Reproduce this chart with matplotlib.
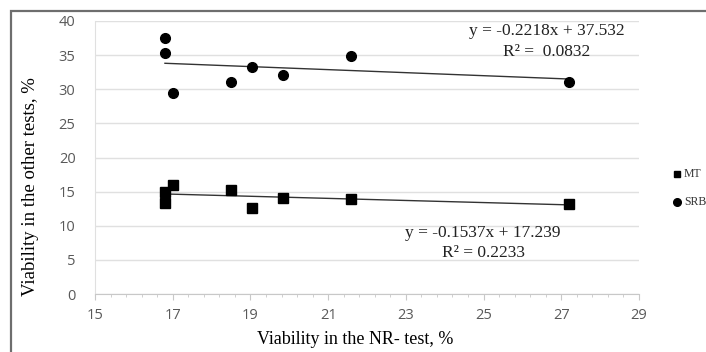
import matplotlib
matplotlib.use("Agg")
import matplotlib.pyplot as plt
from matplotlib.patches import Rectangle
import numpy as np

# Data
nr_mt = [16.8, 16.8, 17.0, 18.5, 19.05, 19.85, 21.6, 27.2]
mt = [14.9, 13.4, 16.0, 15.2, 12.6, 14.0, 13.9, 13.2]
nr_srb = [16.8, 16.8, 17.0, 18.5, 19.05, 19.85, 21.6, 27.2]
srb = [37.5, 35.3, 29.5, 31.0, 33.3, 32.1, 34.9, 31.0]
mt_fit = (-0.1537, 17.239)
srb_fit = (-0.2218, 37.532)
x_ticks = [15, 17, 19, 21, 23, 25, 27, 29]
y_ticks = [0, 5, 10, 15, 20, 25, 30, 35, 40]

W, H = 706, 352
fig = plt.figure(figsize=(W / 100, H / 100), dpi=100)
ax = fig.add_axes([95 / W, 1 - 294 / H, (639 - 95) / W, (294 - 21) / H])

# border around chart
fig.patches.append(Rectangle((10.5 / W, -0.05), 1.0, 1 - 10.5 / H + 0.05,
                             transform=fig.transFigure, fill=False,
                             edgecolor='#6e6e6e', linewidth=1.6))

ax.set_xlim(15, 29)
ax.set_ylim(0, 40)
ax.set_xticks(x_ticks)
ax.set_yticks(y_ticks)
ax.set_xticks(np.arange(15, 29.01, 0.4), minor=True)
ax.tick_params(axis='x', which='major', length=4, color='#c8c8c8', colors='#595959', labelsize=10.5, pad=6)
ax.tick_params(axis='x', which='minor', length=2.5, color='#c8c8c8')
ax.tick_params(axis='y', length=0, colors='#595959', labelsize=10.5, pad=14)
for lab in ax.get_xticklabels() + ax.get_yticklabels():
    lab.set_fontfamily('Open Sans')
ax.grid(axis='y', color='#e0e0e0', linewidth=1)
ax.set_axisbelow(True)
for s in ['top', 'right']:
    ax.spines[s].set_visible(False)
ax.spines['bottom'].set_color('#c8c8c8')
ax.spines['left'].set_color('#e0e0e0')

# trend lines
for xs, (a, b) in ((nr_mt, mt_fit), (nr_srb, srb_fit)):
    xx = np.array([min(xs), max(xs)])
    ax.plot(xx, a * xx + b, color='#333333', linewidth=1.0, zorder=2)

ax.plot(nr_mt, mt, 's', color='black', markersize=7, zorder=3)
ax.plot(nr_srb, srb, 'o', color='black', markersize=7, zorder=3)

serif = 'Liberation Serif'
eq_fs = 12.5
fig.text(547 / W, 1 - 31 / H, 'y = -0.2218x + 37.532', ha='center', va='center',
         fontsize=eq_fs, family=serif, color='#222222')
fig.text(547 / W, 1 - 52 / H, 'R² =  0.0832', ha='center', va='center',
         fontsize=eq_fs, family=serif, color='#222222')
fig.text(483 / W, 1 - 233 / H, 'y = -0.1537x + 17.239', ha='center', va='center',
         fontsize=eq_fs, family=serif, color='#222222')
fig.text(483 / W, 1 - 253 / H, 'R² = 0.2233', ha='center', va='center',
         fontsize=eq_fs, family=serif, color='#222222')

fig.text(355 / W, 1 - 340 / H, 'Viability in the NR- test, %', ha='center', va='center',
         fontsize=13, family=serif)
fig.text(31 / W, 1 - 187 / H, 'Viability in the other tests, %', rotation=90,
         ha='center', va='center', fontsize=13.5, family=serif)

# legend
fig.lines.append(plt.Line2D([677 / W], [1 - 174 / H], marker='s', color='black',
                            markersize=5, transform=fig.transFigure, linestyle='none'))
fig.lines.append(plt.Line2D([677 / W], [1 - 202 / H], marker='o', color='black',
                            markersize=5.5, transform=fig.transFigure, linestyle='none'))
fig.text(684 / W, 1 - 174 / H, 'MT', fontsize=8.5, family=serif, va='center', color='#333333')
fig.text(684 / W, 1 - 202 / H, 'SRB', fontsize=8.5, family=serif, va='center', color='#333333')

fig.savefig('out.png', dpi=100)
